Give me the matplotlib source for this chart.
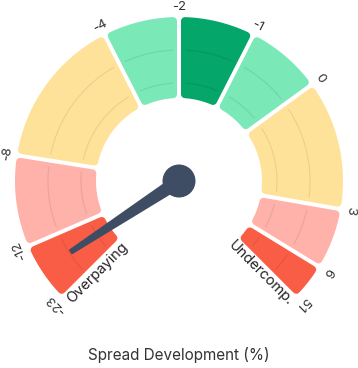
import matplotlib
matplotlib.use('Agg')
import matplotlib.pyplot as plt
import numpy as np
from matplotlib.patches import Polygon, Circle

# gauge data
bounds = [-23, -12, -8, -4, -2, -1, 0, 3, 6, 51]
weights = [8, 12, 20, 10, 10, 10, 17, 8, 5]
colors = ['#F95D45', '#FFB2A9', '#FFE29A', '#7BE8B8', '#04A66A',
          '#7BE8B8', '#FFE29A', '#FFB2A9', '#F95D45']
needle_value = -17
title = 'Spread Development (%)'
left_label = 'Overpaying'
right_label = 'Undercomp.'

plt.rcParams['font.family'] = ['Inter', 'DejaVu Sans']

PX = 0.72  # points per pixel at dpi 100
r_out, r_in = 164, 83
rc, gap = 4, 4
start, span = 225.0, 270.0

cum = np.concatenate([[0], np.cumsum(weights)]) / sum(weights)
edge_ang = start - cum * span  # degrees, one per boundary


def segment_poly(a0, a1):
    # a0 > a1 (clockwise), polygon inset so a round stroke restores the outline
    ro = r_out - rc
    ri = r_in + rc
    d = gap / 2 + rc
    do = np.degrees(np.arcsin(d / ro))
    di = np.degrees(np.arcsin(d / ri))
    t_out = np.radians(np.linspace(a0 - do, a1 + do, 60))
    t_in = np.radians(np.linspace(a1 + di, a0 - di, 60))
    xs = np.concatenate([ro * np.cos(t_out), ri * np.cos(t_in)])
    ys = np.concatenate([ro * np.sin(t_out), ri * np.sin(t_in)])
    return np.column_stack([xs, ys])


fig = plt.figure(figsize=(3.58, 3.68), dpi=100)
ax = fig.add_axes([0, 0, 1, 1])
ax.set_xlim(-179, 179)
ax.set_ylim(-187, 181)
ax.set_aspect('equal')
ax.axis('off')

for i, c in enumerate(colors):
    a0, a1 = edge_ang[i], edge_ang[i + 1]
    p = Polygon(segment_poly(a0, a1), closed=True, facecolor=c, edgecolor=c,
                linewidth=2 * rc * PX, joinstyle='round', zorder=1)
    ax.add_patch(p)
    # faint radial grid inside each segment
    t = np.radians(np.linspace(a0, a1, 60))
    for rg in (98, 131):
        ln, = ax.plot(rg * np.cos(t), rg * np.sin(t), color='black', alpha=0.08,
                      lw=1.2 * PX, zorder=2)
        ln.set_clip_path(p)

# boundary labels
for v, a in zip(bounds, edge_ang):
    ar = np.radians(a)
    ax.text(174 * np.cos(ar), 174 * np.sin(ar), str(v), fontsize=9.5,
            color='#333333', rotation=a - 90, rotation_mode='anchor',
            ha='center', va='center')

# end labels
for txt, a, side, rot in [(left_label, edge_ang[0], 1, 45),
                          (right_label, edge_ang[-1], -1, -45)]:
    ar = np.radians(a)
    perp = np.radians(a + 90 * side)
    x = 123 * np.cos(ar) + 7 * np.cos(perp)
    y = 123 * np.sin(ar) + 7 * np.sin(perp)
    ax.text(x, y, txt, fontsize=10.5, color='#222222', rotation=rot,
            rotation_mode='anchor', ha='center', va='center')

# needle
na = np.radians(np.interp(needle_value, bounds, edge_ang))
L = 129
ux, uy = np.cos(na), np.sin(na)
px_, py_ = -uy, ux
w0, w1 = 6.0, 1.8
needle = np.array([[w0 * px_, w0 * py_],
                   [L * ux + w1 * px_, L * uy + w1 * py_],
                   [L * ux - w1 * px_, L * uy - w1 * py_],
                   [-w0 * px_, -w0 * py_]])
ax.add_patch(Polygon(needle, closed=True, facecolor='#3E4D63', edgecolor='#3E4D63',
                     linewidth=2 * PX, joinstyle='round', zorder=3))
ax.add_patch(Circle((0, 0), 16.5, facecolor='#3E4D63', edgecolor='none', zorder=4))

ax.text(0, -174, title, fontsize=11, color='#333333', ha='center', va='center')

plt.savefig('out.png', dpi=100)
